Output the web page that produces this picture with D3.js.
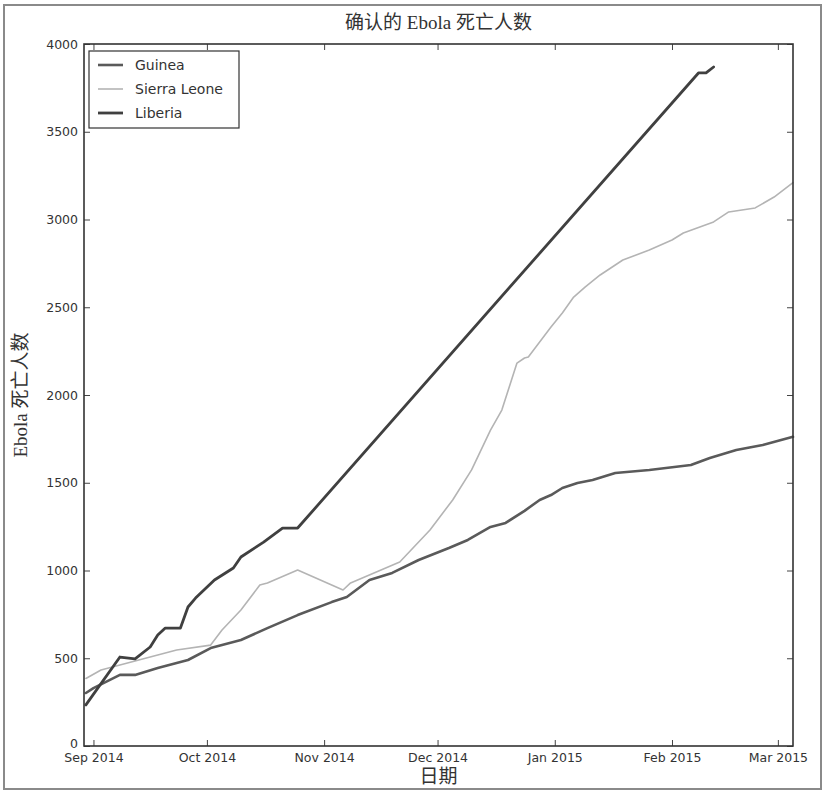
<!DOCTYPE html>
<html>
<head>
<meta charset="utf-8">
<script src="https://cdn.jsdelivr.net/npm/d3@7"></script>
<style>
  html, body { margin: 0; padding: 0; background: #fff; }
  svg { display: block; }
</style>
</head>
<body>
<svg id="chart" width="824" height="791"></svg>
<script>
// Confirmed Ebola deaths per country (cumulative)
const guineaDates = ["2014-08-30","2014-09-01","2014-09-08","2014-09-12","2014-09-18","2014-09-23","2014-09-26","2014-10-02","2014-10-10","2014-10-17","2014-10-25","2014-11-03","2014-11-07","2014-11-13","2014-11-19","2014-11-26","2014-12-04","2014-12-09","2014-12-15","2014-12-19","2014-12-24","2014-12-28","2014-12-31","2015-01-03","2015-01-07","2015-01-11","2015-01-17","2015-01-26","2015-02-06","2015-02-11","2015-02-18","2015-02-25","2015-03-05"];
const guineaValues = [302,330,405,405,444,473,490,558,604,672,746,820,849,946,986,1060,1128,1174,1248,1271,1340,1402,1430,1470,1498,1516,1556,1573,1601,1641,1687,1715,1762];

const sierraDates = ["2014-08-30","2014-09-03","2014-09-13","2014-09-18","2014-09-23","2014-10-02","2014-10-05","2014-10-10","2014-10-15","2014-10-17","2014-10-25","2014-11-06","2014-11-08","2014-11-21","2014-11-29","2014-12-05","2014-12-10","2014-12-15","2014-12-18","2014-12-22","2014-12-24","2014-12-25","2014-12-27","2014-12-31","2015-01-03","2015-01-06","2015-01-09","2015-01-13","2015-01-19","2015-01-26","2015-02-01","2015-02-04","2015-02-12","2015-02-16","2015-02-23","2015-02-28","2015-03-05"];
const sierraValues = [385,433,490,518,547,575,661,775,917,929,1003,889,929,1048,1231,1402,1573,1800,1914,2182,2211,2216,2273,2387,2467,2558,2615,2684,2769,2826,2883,2923,2986,3043,3066,3128,3210];

const liberiaDates = ["2014-08-30","2014-09-08","2014-09-12","2014-09-16","2014-09-18","2014-09-20","2014-09-24","2014-09-26","2014-09-28","2014-10-03","2014-10-08","2014-10-10","2014-10-16","2014-10-21","2014-10-25","2015-02-08","2015-02-10","2015-02-12"];
const liberiaValues = [234,507,496,564,632,672,672,792,843,946,1014,1077,1162,1242,1242,3835,3835,3869];

const seriesNames = ["Guinea", "Sierra Leone", "Liberia"];
const xTickDates = ["2014-09-01","2014-10-01","2014-11-01","2014-12-01","2015-01-01","2015-02-01","2015-03-01"];
const yTicks = [0,500,1000,1500,2000,2500,3000,3500,4000];
const xDomain = ["2014-08-29T12:00","2015-03-05T00:00"];

const titleText = "确认的 Ebola 死亡人数";
const xLabelText = "日期";
const yLabelText = "Ebola 死亡人数";

const parse = s => new Date(s.length > 10 ? s : s + "T00:00");
const fmt = d3.timeFormat("%b %Y");

const svg = d3.select("#chart");
const W = 824, H = 791;
const m = { left: 84, right: 31, top: 44, bottom: 45 };
const iw = W - m.left - m.right, ih = H - m.top - m.bottom;

// outer frame of the figure
svg.append("rect").attr("x", 4).attr("y", 5).attr("width", 817).attr("height", 784)
  .attr("fill", "#fff").attr("stroke", "#8a8a8a").attr("stroke-width", 2);

const x = d3.scaleTime().domain(xDomain.map(parse)).range([0, iw]);
const y = d3.scaleLinear().domain([0, 4000]).range([ih, 0]);

const g = svg.append("g").attr("transform", `translate(${m.left},${m.top})`);

const series = [
  { name: seriesNames[0], dates: guineaDates, values: guineaValues, color: "#5a5a5a", width: 2.6 },
  { name: seriesNames[1], dates: sierraDates, values: sierraValues, color: "#b4b4b4", width: 1.6 },
  { name: seriesNames[2], dates: liberiaDates, values: liberiaValues, color: "#404040", width: 2.8 }
];

const line = d3.line().x(d => x(d[0])).y(d => y(d[1]));

const plot = g.append("g");
series.forEach(s => {
  const pts = s.dates.map((d, i) => [parse(d), s.values[i]]);
  plot.append("path").datum(pts)
    .attr("fill", "none").attr("stroke", s.color).attr("stroke-width", s.width)
    .attr("stroke-linejoin", "round").attr("stroke-linecap", "round")
    .attr("d", line);
});

// axes: ticks pointing inward on all four sides
const tickFont = "DejaVu Sans, sans-serif";
const xTicks = xTickDates.map(parse);

const xAxisB = g.append("g").attr("transform", `translate(0,${ih})`)
  .call(d3.axisBottom(x).tickValues(xTicks).tickFormat(fmt).tickSizeInner(-6).tickSizeOuter(0).tickPadding(5));
const xAxisT = g.append("g")
  .call(d3.axisTop(x).tickValues(xTicks).tickFormat("").tickSizeInner(-6).tickSizeOuter(0));
const yAxisL = g.append("g")
  .call(d3.axisLeft(y).tickValues(yTicks).tickFormat(d3.format("d")).tickSizeInner(-6).tickSizeOuter(0).tickPadding(6));
const yAxisR = g.append("g").attr("transform", `translate(${iw},0)`)
  .call(d3.axisRight(y).tickValues(yTicks).tickFormat("").tickSizeInner(-6).tickSizeOuter(0));

[xAxisB, xAxisT, yAxisL, yAxisR].forEach(a => {
  a.select(".domain").remove();
  a.selectAll(".tick line").attr("stroke", "#444").attr("stroke-width", 1);
  a.selectAll("text").attr("fill", "#333").attr("font-family", tickFont).attr("font-size", 12.5);
});
xAxisB.selectAll("text").attr("dy", "0.9em");
// the zero label sits just above the bottom edge
yAxisL.selectAll(".tick").filter(d => d === 0).select("text").attr("dy", "0.1em");

// frame of the plot area
g.append("rect").attr("width", iw).attr("height", ih)
  .attr("fill", "none").attr("stroke", "#333").attr("stroke-width", 1.6);

// titles
const serif = "Liberation Serif, 'Times New Roman', 'Noto Sans CJK SC', serif";
svg.append("text").attr("x", m.left + iw / 2).attr("y", 29)
  .attr("text-anchor", "middle").attr("font-family", serif).attr("font-size", 19)
  .attr("fill", "#333").text(titleText);
svg.append("text").attr("x", m.left + iw / 2).attr("y", 783)
  .attr("text-anchor", "middle").attr("font-family", serif).attr("font-size", 19)
  .attr("fill", "#333").text(xLabelText);
svg.append("text").attr("transform", `translate(27,${m.top + ih / 2}) rotate(-90)`)
  .attr("text-anchor", "middle").attr("font-family", serif).attr("font-size", 19)
  .attr("fill", "#333").text(yLabelText);

// legend
const lg = g.append("g").attr("transform", "translate(5,7)");
lg.append("rect").attr("width", 150).attr("height", 77)
  .attr("fill", "#fff").attr("stroke", "#333").attr("stroke-width", 1.2);
series.forEach((s, i) => {
  const yy = 14 + i * 24;
  lg.append("line").attr("x1", 9).attr("x2", 34).attr("y1", yy).attr("y2", yy)
    .attr("stroke", s.color).attr("stroke-width", s.width);
  lg.append("text").attr("x", 46).attr("y", yy).attr("dy", "0.35em")
    .attr("font-family", tickFont).attr("font-size", 14).attr("fill", "#333").text(s.name);
});
</script>
</body>
</html>
